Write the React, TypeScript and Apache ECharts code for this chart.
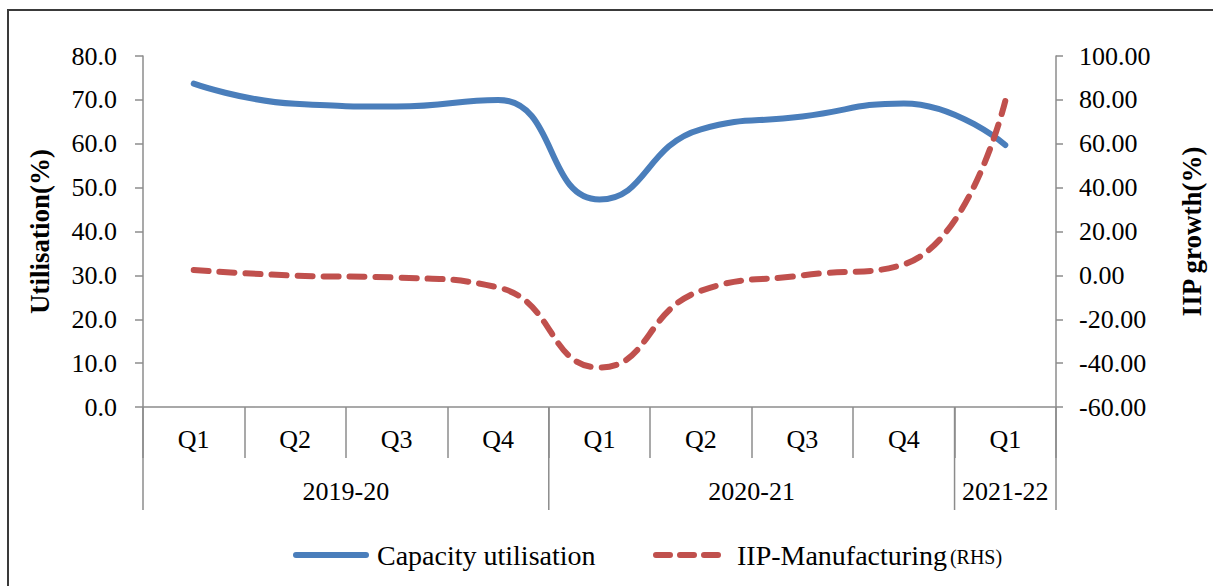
import React, { useEffect, useRef } from 'react';
import * as echarts from 'echarts';

const quarters = ['Q1', 'Q2', 'Q3', 'Q4', 'Q1', 'Q2', 'Q3', 'Q4', 'Q1'];
const fiscalYears = ['2019-20', '2020-21', '2021-22'];
const yearSpans = [4, 4, 1];
const capacityUtilisation = [73.7, 69.1, 68.5, 70.0, 47.3, 63.3, 66.2, 69.2, 59.7];
const iipManufacturing = [2.4, -0.1, -1.0, -5.5, -42.0, -7.0, 0.0, 5.0, 79.5];
const leftAxisRange = { min: 0, max: 80, interval: 10 };
const rightAxisRange = { min: -60, max: 100, interval: 20 };
const seriesNames = ['Capacity utilisation', 'IIP-Manufacturing'];

const FONT = '"Times New Roman", "Liberation Serif", serif';
const AXIS_GRAY = '#8c8c8c';
const BLUE = '#4a7ebb';
const RED = '#c0504d';

export default function App() {
  const ref = useRef<HTMLDivElement>(null);

  useEffect(() => {
    const chart = echarts.init(ref.current!, null, { renderer: 'svg' });
    chart.setOption({
      animation: false,
      backgroundColor: '#ffffff',
      textStyle: { fontFamily: FONT, color: '#000' },
      grid: { left: 143, right: 151, top: 56, bottom: 179, containLabel: false },
      legend: [
        {
          data: [seriesNames[0]],
          left: 288,
          top: 536,
          itemWidth: 70,
          itemHeight: 28,
          itemStyle: { opacity: 0 },
          lineStyle: { width: 6, cap: 'round' },
          textStyle: { fontFamily: FONT, fontSize: 28, color: '#000', padding: [0, 0, 0, 6] },
        },
        {
          data: [seriesNames[1]],
          left: 648,
          top: 536,
          itemWidth: 70,
          itemHeight: 28,
          itemStyle: { opacity: 0 },
          lineStyle: { width: 6, cap: 'round', type: [14, 10] },
          textStyle: {
            fontFamily: FONT,
            color: '#000',
            padding: [0, 0, 0, 6],
            rich: {
              a: { fontFamily: FONT, fontSize: 28, color: '#000' },
              b: { fontFamily: FONT, fontSize: 20, color: '#000', padding: [4, 0, 0, 0] },
            },
          },
          formatter: (n: string) => `{a|${n}} {b|(RHS)}`,
        },
      ],
      xAxis: {
        type: 'category',
        data: quarters,
        boundaryGap: true,
        axisLine: { show: true, lineStyle: { color: AXIS_GRAY, width: 1.5 } },
        axisTick: { show: true, length: 51, lineStyle: { color: AXIS_GRAY, width: 1.5 } },
        axisLabel: { fontFamily: FONT, fontSize: 26, color: '#000', margin: 19, interval: 0 },
        splitLine: { show: false },
      },
      yAxis: [
        {
          type: 'value',
          ...leftAxisRange,
          position: 'left',
          name: 'Utilisation(%)',
          nameLocation: 'middle',
          nameRotate: 90,
          nameGap: 90,
          nameTextStyle: { fontFamily: FONT, fontSize: 27, fontWeight: 'bold', color: '#000' },
          axisLine: { show: true, lineStyle: { color: AXIS_GRAY, width: 1.5 } },
          axisTick: { show: true, length: 8, lineStyle: { color: AXIS_GRAY, width: 1.5 } },
          axisLabel: {
            fontFamily: FONT,
            fontSize: 26,
            color: '#000',
            margin: 26,
            formatter: (v: number) => v.toFixed(1),
          },
          splitLine: { show: false },
        },
        {
          type: 'value',
          ...rightAxisRange,
          position: 'right',
          name: 'IIP growth(%)',
          nameLocation: 'middle',
          nameRotate: 90,
          nameGap: 122,
          nameTextStyle: { fontFamily: FONT, fontSize: 27, fontWeight: 'bold', color: '#000' },
          axisLine: { show: true, lineStyle: { color: AXIS_GRAY, width: 1.5 } },
          axisTick: { show: true, length: 7, lineStyle: { color: AXIS_GRAY, width: 1.5 } },
          axisLabel: {
            fontFamily: FONT,
            fontSize: 26,
            color: '#000',
            margin: 23,
            formatter: (v: number) => v.toFixed(2),
          },
          splitLine: { show: false },
        },
      ],
      series: [
        {
          name: seriesNames[0],
          type: 'line',
          yAxisIndex: 0,
          data: capacityUtilisation,
          smooth: 0.5,
          symbol: 'none',
          showSymbol: false,
          lineStyle: { color: BLUE, width: 6, cap: 'round' },
          itemStyle: { color: BLUE },
        },
        {
          name: seriesNames[1],
          type: 'line',
          yAxisIndex: 1,
          data: iipManufacturing,
          smooth: 0.5,
          symbol: 'none',
          showSymbol: false,
          lineStyle: { color: RED, width: 6, type: [15, 11], cap: 'round' },
          itemStyle: { color: RED },
        },
      ],
    });

    const c0 = chart.convertToPixel({ xAxisIndex: 0 }, 0) as number;
    const c1 = chart.convertToPixel({ xAxisIndex: 0 }, 1) as number;
    const band = c1 - c0;
    const yBase = chart.convertToPixel({ yAxisIndex: 0 }, 0) as number;
    const graphics: any[] = [
      {
        type: 'rect',
        silent: true,
        shape: { x: 8, y: 10, width: 1400, height: 800 },
        style: { fill: 'none', stroke: '#3a3a3a', lineWidth: 2 },
      },
    ];
    let start = 0;
    const boundaries: number[] = [c0 - band / 2];
    fiscalYears.forEach((fy, i) => {
      const l = c0 - band / 2 + start * band;
      const r = l + yearSpans[i] * band;
      boundaries.push(r);
      graphics.push({
        type: 'text',
        silent: true,
        x: (l + r) / 2,
        y: yBase + 84,
        style: {
          text: fy,
          fontFamily: FONT,
          fontSize: 26,
          fill: '#000',
          align: 'center',
          verticalAlign: 'middle',
        },
      });
      start += yearSpans[i];
    });
    boundaries.forEach((bx) => {
      graphics.push({
        type: 'line',
        silent: true,
        shape: { x1: bx, y1: yBase, x2: bx, y2: yBase + 103 },
        style: { stroke: AXIS_GRAY, lineWidth: 1.5 },
      });
    });
    chart.setOption({ graphic: graphics });

    return () => chart.dispose();
  }, []);

  return (
    <div
      ref={ref}
      style={{ position: 'absolute', left: 0, top: 0, width: 1213, height: 586, background: '#fff' }}
    />
  );
}
